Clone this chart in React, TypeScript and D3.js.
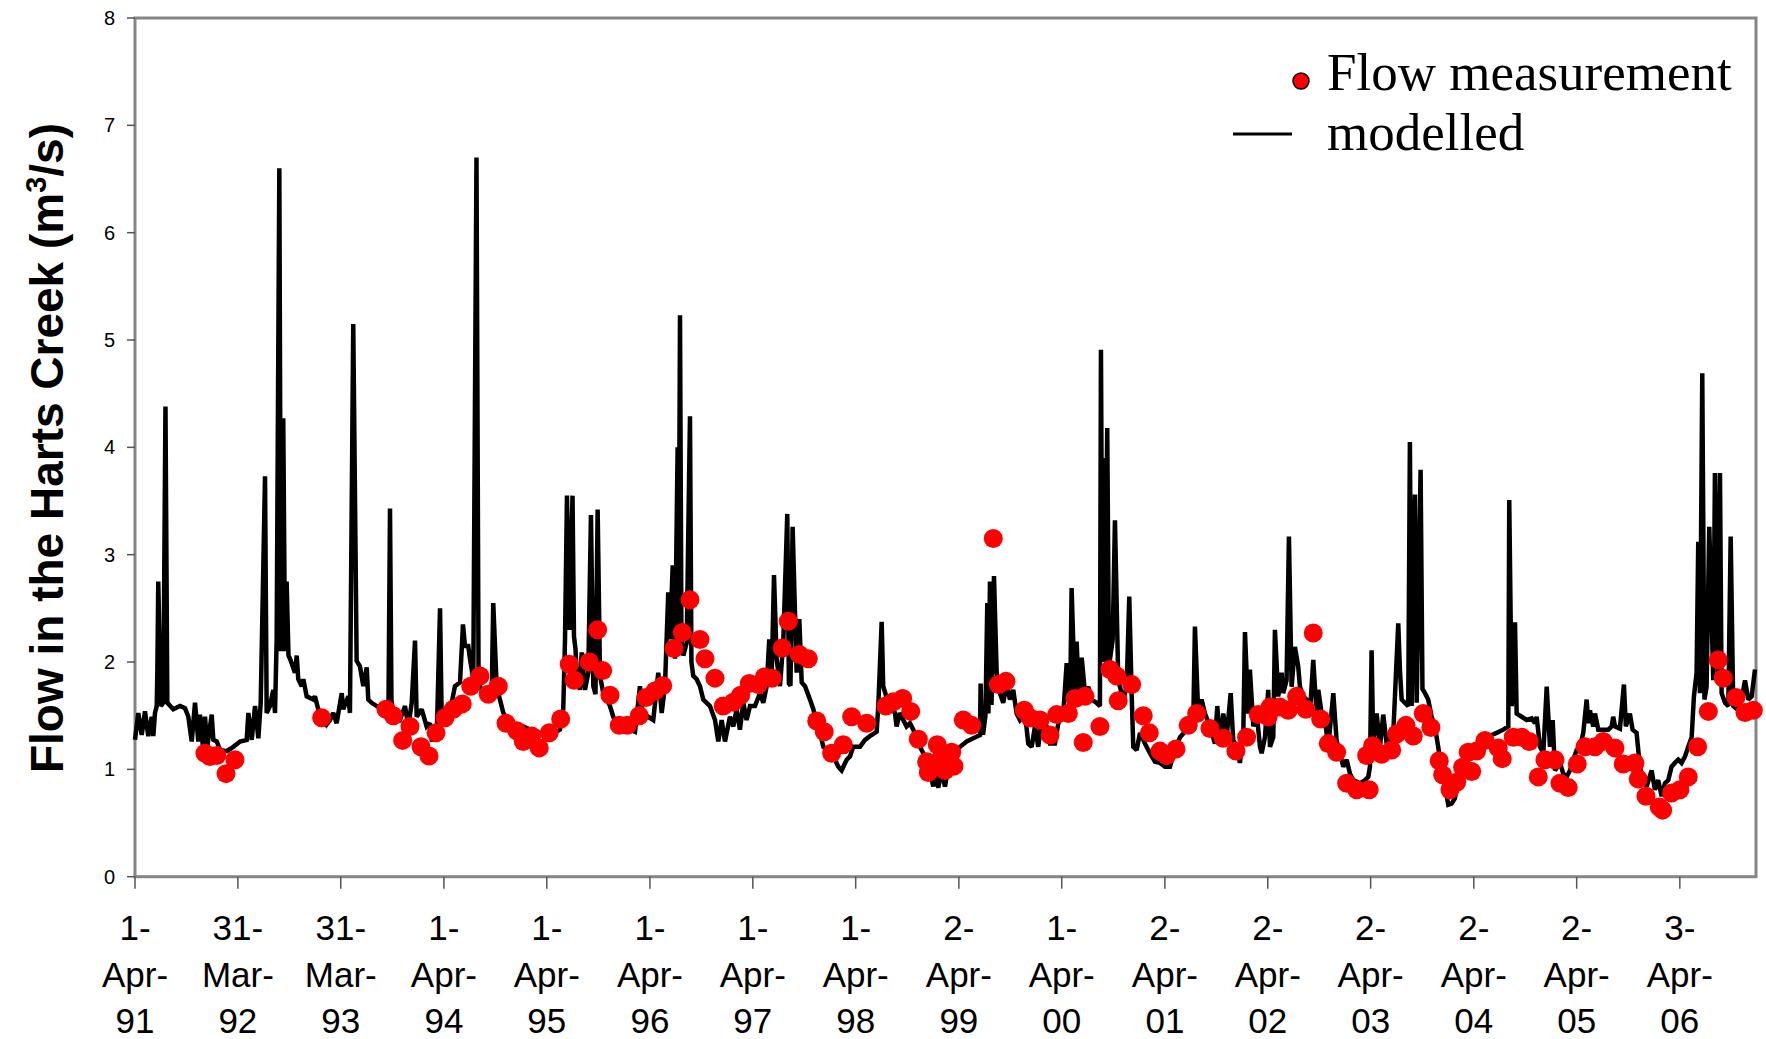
import React from "react";
import * as d3 from "d3";

// x values: years elapsed since 1-Apr-1991; y values: flow (m3/s)
const modelled: [number, number][] = [
  [0.000,1.275],[0.032,1.525],[0.065,1.32],[0.097,1.54],[0.129,1.31],[0.162,1.49],[0.178,1.31],[0.194,1.525],
  [0.211,1.59],[0.217,1.90],[0.226,2.75],[0.250,1.59],[0.275,1.62],[0.296,4.38],[0.314,1.62],[0.372,1.56],
  [0.437,1.59],[0.486,1.57],[0.518,1.49],[0.551,1.26],[0.583,1.62],[0.615,1.26],[0.631,1.51],[0.658,1.23],
  [0.680,1.49],[0.702,1.21],[0.745,1.51],[0.761,1.275],[0.794,1.26],[0.826,1.18],[0.891,1.17],[0.955,1.21],
  [1.020,1.26],[1.085,1.275],[1.101,1.525],[1.134,1.275],[1.166,1.59],[1.198,1.29],[1.221,1.62],[1.263,3.73],
  [1.279,1.525],[1.311,1.59],[1.343,1.74],[1.360,1.525],[1.376,2.21],[1.402,6.60],[1.418,2.10],[1.440,4.27],
  [1.457,2.10],[1.473,2.75],[1.491,2.06],[1.506,2.03],[1.554,1.90],[1.571,2.06],[1.586,1.84],[1.619,1.775],
  [1.635,1.84],[1.668,1.68],[1.732,1.65],[1.748,1.68],[1.780,1.56],[1.813,1.525],[1.862,1.42],[1.894,1.46],
  [1.926,1.525],[1.959,1.43],[2.008,1.71],[2.023,1.56],[2.072,1.68],[2.088,1.525],[2.120,5.15],[2.153,2.01],
  [2.185,1.96],[2.218,1.775],[2.251,1.95],[2.266,1.65],[2.299,1.62],[2.348,1.59],[2.412,1.56],[2.462,1.56],
  [2.477,3.43],[2.491,1.65],[2.509,1.49],[2.574,1.46],[2.623,1.59],[2.655,1.40],[2.688,1.62],[2.720,2.20],
  [2.736,1.49],[2.785,1.56],[2.833,1.40],[2.865,1.43],[2.882,1.275],[2.930,1.275],[2.963,2.50],[2.979,1.49],
  [3.028,1.56],[3.076,1.62],[3.108,1.775],[3.157,1.81],[3.186,2.35],[3.205,2.15],[3.237,2.15],[3.254,2.03],
  [3.286,1.84],[3.317,6.70],[3.337,1.90],[3.351,1.775],[3.383,1.71],[3.432,1.68],[3.465,1.71],[3.480,2.55],
  [3.513,1.775],[3.545,1.65],[3.578,1.525],[3.642,1.42],[3.708,1.40],[3.772,1.40],[3.837,1.37],[3.934,1.34],
  [4.031,1.32],[4.128,1.37],[4.160,1.56],[4.177,2.21],[4.196,3.55],[4.220,2.30],[4.250,3.55],[4.264,2.24],
  [4.279,2.12],[4.290,1.90],[4.322,1.74],[4.339,2.09],[4.371,1.74],[4.403,1.90],[4.429,3.37],[4.452,1.775],
  [4.473,1.70],[4.494,3.42],[4.517,1.87],[4.549,1.71],[4.582,1.65],[4.614,1.59],[4.646,1.49],[4.679,1.43],
  [4.743,1.40],[4.808,1.37],[4.857,1.35],[4.905,1.775],[4.937,1.46],[4.986,1.49],[5.034,1.46],[5.083,1.90],
  [5.116,1.525],[5.148,1.775],[5.180,2.65],[5.197,2.21],[5.223,2.90],[5.245,2.03],[5.271,4.00],[5.281,2.30],
  [5.294,5.23],[5.308,2.20],[5.326,2.06],[5.359,2.18],[5.391,4.29],[5.405,2.00],[5.423,1.87],[5.456,1.84],
  [5.488,1.775],[5.520,1.65],[5.585,1.59],[5.634,1.46],[5.666,1.26],[5.699,1.46],[5.731,1.26],[5.779,1.49],
  [5.812,1.40],[5.844,1.56],[5.876,1.37],[5.909,1.62],[5.941,1.46],[5.974,1.59],[6.022,1.59],[6.071,1.71],
  [6.103,1.62],[6.136,1.775],[6.161,2.21],[6.184,1.84],[6.207,2.81],[6.233,2.03],[6.265,1.775],[6.297,2.18],
  [6.336,3.38],[6.352,1.80],[6.367,1.78],[6.388,3.26],[6.427,1.90],[6.453,2.40],[6.476,1.81],[6.508,1.775],
  [6.557,1.65],[6.589,1.56],[6.622,1.43],[6.654,1.34],[6.686,1.21],[6.734,1.18],[6.783,1.12],[6.832,1.025],
  [6.864,0.99],[6.913,1.09],[6.945,1.12],[6.977,1.21],[7.042,1.21],[7.091,1.275],[7.139,1.31],[7.204,1.35],
  [7.220,1.59],[7.253,2.375],[7.268,1.775],[7.317,1.62],[7.350,1.56],[7.382,1.525],[7.398,1.40],[7.430,1.525],
  [7.463,1.46],[7.495,1.40],[7.528,1.43],[7.560,1.37],[7.593,1.275],[7.641,1.18],[7.690,1.09],[7.722,0.99],
  [7.754,0.84],[7.771,0.96],[7.803,0.83],[7.836,0.99],[7.868,0.84],[7.900,1.025],[7.949,1.15],[8.014,1.21],
  [8.079,1.26],[8.143,1.29],[8.208,1.32],[8.214,1.80],[8.224,1.34],[8.240,1.34],[8.261,1.50],[8.279,2.55],
  [8.290,1.52],[8.305,2.75],[8.320,1.60],[8.344,2.80],[8.370,1.90],[8.402,1.71],[8.434,1.62],[8.467,1.80],
  [8.499,1.65],[8.531,1.74],[8.564,1.52],[8.596,1.46],[8.645,1.52],[8.677,1.24],[8.710,1.21],[8.742,1.40],
  [8.774,1.21],[8.807,1.46],[8.856,1.40],[8.888,1.24],[8.936,1.24],[8.969,1.43],[9.017,1.52],[9.050,1.99],
  [9.082,1.49],[9.098,2.69],[9.131,1.65],[9.147,2.19],[9.172,1.59],[9.196,2.04],[9.228,1.71],[9.260,1.77],
  [9.293,1.65],[9.341,1.62],[9.373,1.59],[9.383,4.91],[9.398,2.00],[9.407,3.90],[9.422,2.00],[9.444,4.18],
  [9.461,1.96],[9.497,2.21],[9.519,3.32],[9.551,1.83],[9.600,1.65],[9.633,1.77],[9.658,2.61],[9.681,1.71],
  [9.697,1.21],[9.730,1.18],[9.762,1.34],[9.810,1.24],[9.859,1.15],[9.908,1.07],[9.956,1.06],[10.005,1.025],
  [10.053,1.025],[10.102,1.18],[10.151,1.30],[10.216,1.37],[10.280,1.46],[10.296,2.33],[10.328,1.52],[10.361,1.65],
  [10.393,1.52],[10.442,1.40],[10.490,1.24],[10.513,1.59],[10.539,1.24],[10.571,1.52],[10.604,1.30],[10.643,1.71],
  [10.668,1.27],[10.701,1.21],[10.733,1.06],[10.766,1.34],[10.782,2.28],[10.814,1.52],[10.830,1.93],[10.863,1.40],
  [10.896,1.52],[10.928,1.21],[10.944,1.15],[10.976,1.30],[11.008,1.74],[11.025,1.21],[11.057,1.30],[11.073,2.30],
  [11.105,1.68],[11.138,1.90],[11.154,1.71],[11.186,1.83],[11.209,3.17],[11.235,1.77],[11.267,2.14],[11.299,1.96],
  [11.316,1.77],[11.348,1.68],[11.381,1.65],[11.413,1.52],[11.445,2.02],[11.478,1.52],[11.494,1.74],[11.527,1.52],
  [11.559,1.46],[11.591,1.21],[11.640,1.71],[11.672,1.27],[11.704,1.15],[11.737,1.025],[11.770,1.09],[11.802,0.96],
  [11.834,0.90],[11.899,0.87],[11.948,0.90],[11.980,0.93],[11.996,1.025],[12.012,2.11],[12.028,1.24],[12.061,1.52],
  [12.093,1.21],[12.125,1.51],[12.158,1.24],[12.190,1.30],[12.223,1.34],[12.249,1.90],[12.271,2.36],[12.287,1.93],
  [12.304,1.65],[12.336,1.62],[12.368,1.59],[12.384,4.05],[12.401,1.59],[12.433,3.56],[12.450,1.62],[12.488,3.79],
  [12.506,1.75],[12.530,1.71],[12.562,1.65],[12.595,1.49],[12.627,1.40],[12.659,1.21],[12.692,0.99],[12.724,0.84],
  [12.757,0.67],[12.789,0.68],[12.821,0.73],[12.854,0.90],[12.886,0.99],[12.935,1.18],[12.984,1.21],[13.032,1.24],
  [13.081,1.27],[13.129,1.30],[13.178,1.32],[13.227,1.34],[13.291,1.37],[13.340,1.40],[13.349,3.51],[13.373,1.59],
  [13.395,1.83],[13.405,2.37],[13.421,1.52],[13.470,1.49],[13.518,1.46],[13.567,1.475],[13.599,1.43],[13.615,1.49],
  [13.648,1.21],[13.680,1.15],[13.713,1.77],[13.745,1.21],[13.771,1.46],[13.793,0.99],[13.842,1.06],[13.874,0.96],
  [13.907,0.93],[13.939,0.99],[13.971,1.09],[14.004,1.18],[14.036,1.21],[14.068,1.34],[14.101,1.65],[14.117,1.43],
  [14.133,1.55],[14.165,1.40],[14.182,1.52],[14.214,1.37],[14.262,1.37],[14.311,1.37],[14.344,1.40],[14.359,1.49],
  [14.376,1.40],[14.424,1.38],[14.463,1.79],[14.482,1.40],[14.521,1.52],[14.547,1.37],[14.586,1.34],[14.618,1.025],
  [14.651,0.90],[14.683,0.84],[14.732,0.99],[14.764,0.81],[14.796,0.90],[14.829,0.75],[14.861,0.87],[14.894,0.90],
  [14.926,1.025],[14.958,1.06],[14.991,1.09],[15.023,1.06],[15.056,1.12],[15.088,1.21],[15.121,1.30],[15.143,1.68],
  [15.169,1.90],[15.185,3.12],[15.201,1.71],[15.224,4.69],[15.245,1.65],[15.266,1.77],[15.292,3.26],[15.331,1.83],
  [15.347,3.76],[15.379,1.83],[15.396,3.76],[15.412,1.71],[15.445,1.62],[15.477,1.59],[15.500,3.17],[15.525,1.59],
  [15.574,1.55],[15.607,1.65],[15.639,1.83],[15.671,1.65],[15.704,1.68],[15.736,1.93],
];

const measured: [number, number][] = [
  [0.680,1.15],[0.728,1.12],[0.794,1.13],[0.884,0.96],[0.971,1.09],[1.813,1.48],[2.438,1.56],[2.509,1.50],
  [2.600,1.27],[2.671,1.40],[2.778,1.21],[2.856,1.125],[2.924,1.34],[3.011,1.48],[3.092,1.56],[3.179,1.61],
  [3.261,1.775],[3.351,1.87],[3.432,1.70],[3.529,1.775],[3.604,1.43],[3.708,1.36],[3.772,1.26],[3.853,1.31],
  [3.927,1.20],[4.024,1.34],[4.135,1.47],[4.218,1.98],[4.267,1.83],[4.413,2.00],[4.494,2.30],[4.543,1.92],
  [4.614,1.69],[4.704,1.41],[4.782,1.41],[4.898,1.50],[4.963,1.67],[5.051,1.73],[5.126,1.78],[5.235,2.125],
  [5.316,2.275],[5.391,2.58],[5.488,2.21],[5.537,2.03],[5.634,1.85],[5.714,1.59],[5.812,1.625],[5.883,1.69],
  [5.967,1.80],[6.054,1.79],[6.113,1.86],[6.190,1.85],[6.287,2.13],[6.346,2.38],[6.453,2.07],[6.540,2.03],
  [6.622,1.45],[6.695,1.35],[6.767,1.15],[6.880,1.23],[6.961,1.49],[7.107,1.43],[7.294,1.59],[7.366,1.63],
  [7.457,1.66],[7.535,1.54],[7.609,1.28],[7.690,1.07],[7.706,0.97],[7.751,1.02],[7.793,1.23],[7.819,1.09],
  [7.868,0.99],[7.933,1.16],[7.955,1.03],[8.046,1.46],[8.127,1.41],[8.337,3.15],[8.386,1.79],[8.460,1.82],
  [8.638,1.55],[8.694,1.48],[8.791,1.46],[8.888,1.32],[8.953,1.51],[9.066,1.52],[9.131,1.66],[9.228,1.68],
  [9.211,1.25],[9.373,1.40],[9.470,1.93],[9.536,1.87],[9.551,1.64],[9.681,1.79],[9.794,1.50],[9.853,1.34],
  [9.956,1.17],[10.021,1.13],[10.112,1.19],[10.231,1.41],[10.313,1.52],[10.442,1.38],[10.571,1.29],[10.694,1.17],
  [10.798,1.30],[10.911,1.51],[11.008,1.49],[11.025,1.58],[11.122,1.58],[11.202,1.55],[11.284,1.68],[11.374,1.56],
  [11.445,2.27],[11.517,1.47],[11.591,1.24],[11.672,1.16],[11.770,0.87],[11.867,0.81],[11.989,0.81],[11.964,1.13],
  [12.022,1.22],[12.110,1.14],[12.207,1.18],[12.255,1.33],[12.346,1.41],[12.417,1.31],[12.514,1.52],[12.588,1.39],
  [12.669,1.08],[12.702,0.95],[12.773,0.81],[12.838,0.88],[12.896,1.02],[12.984,0.98],[12.951,1.16],[13.032,1.17],
  [13.113,1.27],[13.242,1.20],[13.281,1.10],[13.388,1.30],[13.470,1.30],[13.544,1.26],[13.631,0.93],[13.696,1.09],
  [13.793,1.09],[13.842,0.87],[13.922,0.83],[14.010,1.05],[14.085,1.21],[14.182,1.21],[14.262,1.26],[14.376,1.20],
  [14.456,1.05],[14.570,1.06],[14.602,0.91],[14.677,0.75],[14.806,0.65],[14.839,0.62],[14.926,0.78],[15.007,0.81],
  [15.088,0.93],[15.179,1.21],[15.283,1.54],[15.379,2.02],[15.428,1.85],[15.551,1.67],[15.639,1.53],[15.720,1.55],
];

// tick dates (UTC y, m(0-based), d) and their three-line labels
const tickDates: [number, number, number][] = [
  [1991,3,1],[1992,2,31],[1993,2,31],[1994,3,1],[1995,3,1],[1996,3,1],[1997,3,1],[1998,3,1],
  [1999,3,2],[2000,3,1],[2001,3,2],[2002,3,2],[2003,3,2],[2004,3,2],[2005,3,2],[2006,3,3],
];
const tickDay = ["1-","31-","31-","1-","1-","1-","1-","1-","2-","1-","2-","2-","2-","2-","2-","3-"];
const tickMonth = ["Apr-","Mar-","Mar-","Apr-","Apr-","Apr-","Apr-","Apr-","Apr-","Apr-","Apr-","Apr-","Apr-","Apr-","Apr-","Apr-"];
const tickYear = ["91","92","93","94","95","96","97","98","99","00","01","02","03","04","05","06"];
const yTicks = [0, 1, 2, 3, 4, 5, 6, 7, 8];
const END_YEARS = 15.746;

const DAY = 86400000;
const START = Date.UTC(1991, 3, 1);
const toDate = (t: number) => new Date(START + t * 365.25 * DAY);

export default function App() {
  const W = 1766, H = 1039;
  const left = 135, right = 1756, top = 18, bottom = 876.7;
  const x = d3.scaleUtc().domain([new Date(START), toDate(END_YEARS)]).range([left, right]);
  const y = d3.scaleLinear().domain([0, 8]).range([bottom, top]);
  const line = d3.line<[number, number]>()
    .x((d) => x(toDate(d[0])))
    .y((d) => y(d[1]));
  const sans = "'Liberation Sans', Arial, sans-serif";
  const serif = "'Liberation Serif', 'Times New Roman', serif";

  return (
    <svg width={W} height={H} style={{ position: "absolute", left: 0, top: 0, background: "#fff" }}>
      <rect x={0} y={0} width={W} height={H} fill="#fff" />
      {/* plot frame */}
      <rect x={left} y={top} width={right - left} height={bottom - top} fill="none" stroke="#858585" strokeWidth={3} />
      {/* y ticks */}
      {yTicks.map((v) => (
        <g key={"y" + v}>
          <line x1={left - 8} x2={left} y1={y(v)} y2={y(v)} stroke="#555" strokeWidth={1.5} />
          <text x={115} y={y(v) + 7} textAnchor="end" fontFamily={sans} fontSize={20} fill="#000">{v}</text>
        </g>
      ))}
      {/* x ticks */}
      {tickDates.map((d, i) => {
        const px = x(new Date(Date.UTC(d[0], d[1], d[2])));
        return (
          <g key={"x" + i}>
            <line x1={px} x2={px} y1={bottom} y2={bottom + 12} stroke="#555" strokeWidth={1.5} />
            <text x={px} y={940} textAnchor="middle" fontFamily={sans} fontSize={35}>{tickDay[i]}</text>
            <text x={px} y={987} textAnchor="middle" fontFamily={sans} fontSize={35}>{tickMonth[i]}</text>
            <text x={px} y={1033} textAnchor="middle" fontFamily={sans} fontSize={35}>{tickYear[i]}</text>
          </g>
        );
      })}
      {/* y title */}
      <text transform={`translate(63,448) rotate(-90)`} textAnchor="middle" fontFamily={sans} fontWeight="bold" fontSize={46}>
        Flow in the Harts Creek (m<tspan fontSize={29} dy={-17}>3</tspan><tspan dy={17}>/s)</tspan>
      </text>
      {/* modelled line */}
      <path d={line(modelled) || ""} fill="none" stroke="#000" strokeWidth={4.5} strokeLinejoin="miter" strokeMiterlimit={2} />
      {/* measurements */}
      {measured.map((d, i) => (
        <circle key={"m" + i} cx={x(toDate(d[0]))} cy={y(d[1])} r={9.5} fill="#ff0000" />
      ))}
      {/* legend */}
      <circle cx={1301} cy={81} r={8} fill="#ff0000" stroke="#000" strokeWidth={1.5} />
      <text x={1327} y={90} fontFamily={serif} fontSize={53}>Flow measurement</text>
      <line x1={1233} x2={1292} y1={134} y2={134} stroke="#000" strokeWidth={3} />
      <text x={1327} y={150} fontFamily={serif} fontSize={53}>modelled</text>
    </svg>
  );
}
